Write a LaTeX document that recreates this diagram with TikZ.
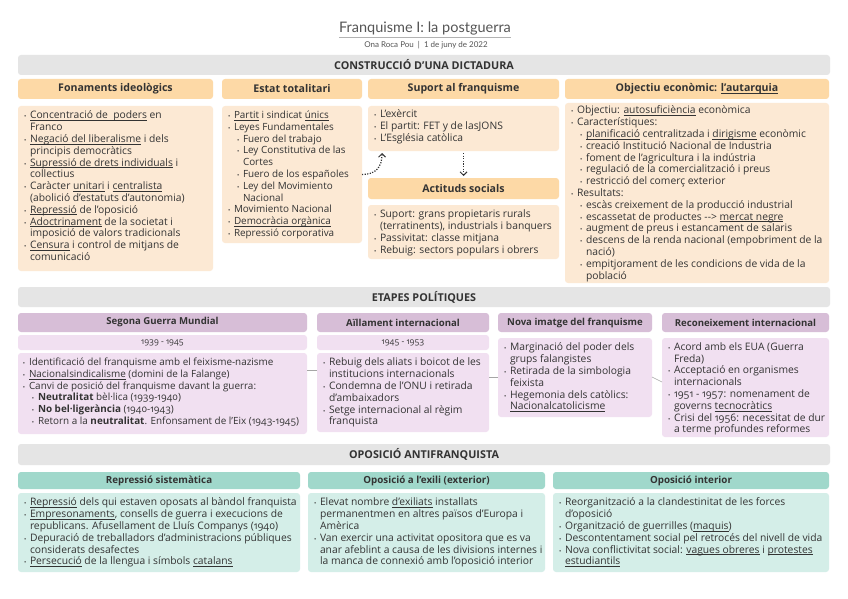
\documentclass[tikz,border=0pt]{standalone}
\usepackage{fontspec}
\setmainfont{Open Sans}[Numbers=OldStyle]
\newfontfamily\titlefont{Lato}
\newcommand\uln[1]{\setbox0\hbox{#1}\rlap{\rule[-1.7pt]{\wd0}{0.5pt}}\box0\relax}
\usetikzlibrary{arrows.meta,calc}
\definecolor{bandgray}{HTML}{E5E5E5}
\definecolor{orH}{HTML}{FDD9A6}
\definecolor{orB}{HTML}{FCE9D4}
\definecolor{puH}{HTML}{D7BED7}
\definecolor{puB}{HTML}{F1E0F1}
\definecolor{teH}{HTML}{A0D8CB}
\definecolor{teB}{HTML}{D4EEE8}
\definecolor{txtc}{HTML}{333333}
\definecolor{titlec}{HTML}{555555}
\newcommand\bul{{\fontsize{6}{6}\selectfont •}}
\newcommand\bA{\makebox[6pt][l]{\bul}}
\newcommand\bB{\hspace*{9pt}\makebox[6pt][l]{\bul}}
\newcommand\cA{\hspace*{6pt}}
\newcommand\cB{\hspace*{15pt}}
\begin{document}
\begin{tikzpicture}[x=1pt,y=-1pt,
  every node/.style={inner sep=0pt, outer sep=0pt, text=txtc},
  panel/.style={anchor=north west, rounded corners=3pt},
  band/.style={panel, fill=bandgray, font=\bfseries\fontsize{10.8}{12}\selectfont},
  oh/.style={panel, fill=orH, font=\bfseries\fontsize{10.6}{12}\selectfont},
  ob/.style={panel, fill=orB},
  ph/.style={panel, fill=puH, font=\bfseries\fontsize{9.6}{12}\selectfont},
  pd/.style={panel, fill=puB, font=\fontsize{8.5}{10}\selectfont},
  pb/.style={panel, fill=puB},
  th/.style={panel, fill=teH, font=\bfseries\fontsize{9.8}{12}\selectfont},
  tb/.style={panel, fill=teB},
  txt/.style={anchor=north west, align=left, font=\fontsize{10.3}{11.8}\selectfont},
  txts/.style={txt, font=\fontsize{9.9}{11.8}\selectfont},
  link/.style={draw=gray!70, line width=0.6pt},
  dotarr/.style={draw=txtc, line width=1.2pt, dash pattern=on 1.2pt off 1.4pt, -{Straight Barb[length=3.5pt,width=7pt,line width=1pt]}}
]
\useasboundingbox[fill=white] (0,0) rectangle (848,599);

% title
\node[anchor=base, text=titlec, font=\titlefont\fontsize{14.5}{16}\selectfont] (title) at (425,33) {Franquisme I: la postguerra};
\draw[gray!60, line width=0.8pt] ($(title.base west)+(0,4.5)$) -- ($(title.base east)+(0,4.5)$);
\node[anchor=base, text=titlec, font=\titlefont\fontsize{8}{9}\selectfont] (sub) at (426,48) {Ona Roca Pou \ | \ 1 de juny de 2022};

% ===== CONSTRUCCIO
\node[band, minimum width=812pt, minimum height=20pt] (b1) at (18,55) {CONSTRUCCIÓ D'UNA DICTADURA};

\node[oh, minimum width=195pt, minimum height=20pt] (fonH) at (18,79) {Fonaments ideològics};
\node[oh, minimum width=140pt, minimum height=20pt] (estH) at (222,79) {Estat totalitari};
\node[oh, minimum width=191pt, minimum height=20pt] (supH) at (368,79) {Suport al franquisme};
\node[oh, minimum width=264pt, minimum height=20pt] (objH) at (565,79) {Objectiu econòmic: \uln{l'autarquia}};

\node[ob, minimum width=195pt, minimum height=165pt] (fonB) at (18,106) {};
\node[ob, minimum width=140pt, minimum height=137pt] (estB) at (222,106) {};
\node[ob, minimum width=191pt, minimum height=45pt] (supB) at (368,106) {};
\node[oh, minimum width=191pt, minimum height=21pt] (actH) at (368,178) {Actituds socials};
\node[ob, minimum width=191pt, minimum height=54pt] (actB) at (368,205) {};
\node[ob, minimum width=264pt, minimum height=180pt] (objB) at (565,103) {};

\node[txt] (fonT) at ($(fonB.north west)+(6,5)$) {%
\bA \uln{Concentració de\ \ poders} en\\
\cA Franco\\
\bA \uln{Negació del liberalisme} i dels\\
\cA principis democràtics\\
\bA \uln{Supressió de drets individuals} i\\
\cA collectius\\
\bA Caràcter \uln{unitari} i \uln{centralista}\\
\cA (abolició d'estatuts d'autonomia)\\
\bA \uln{Repressió} de l'oposició\\
\bA \uln{Adoctrinament} de la societat i\\
\cA imposició de valors tradicionals\\
\bA \uln{Censura} i control de mitjans de\\
\cA comunicació};

\node[txts] (estT) at ($(estB.north west)+(6,5)$) {%
\bA \uln{Partit} i sindicat \uln{únics}\\
\bA Leyes Fundamentales\\
\bB Fuero del trabajo\\
\bB Ley Constitutiva de las\\
\cB Cortes\\
\bB Fuero de los españoles\\
\bB Ley del Movimiento\\
\cB Nacional\\
\bA Movimiento Nacional\\
\bA \uln{Democràcia orgànica}\\
\bA Repressió corporativa};

\node[txt] (supT) at ($(supB.north west)+(6,4)$) {%
\bA L'exèrcit\\
\bA El partit: FET y de lasJONS\\
\bA L'Església catòlica};

\node[txt] (actT) at ($(actB.north west)+(6,5)$) {%
\bA Suport: grans propietaris rurals\\
\cA (terratinents), industrials i banquers\\
\bA Passivitat: classe mitjana\\
\bA Rebuig: sectors populars i obrers};

\node[txt] (objT) at ($(objB.north west)+(6,3)$) {%
\bA Objectiu: \uln{autosuficiència} econòmica\\
\bA Característiques:\\
\bB \uln{planificació} centralitzada i \uln{dirigisme} econòmic\\
\bB creació Institució Nacional de Industria\\
\bB foment de l'agricultura i la indústria\\
\bB regulació de la comercialització i preus\\
\bB restricció del comerç exterior\\
\bA Resultats:\\
\bB escàs creixement de la producció industrial\\
\bB escassetat de productes -{}-{}> \uln{mercat negre}\\
\bB augment de preus i estancament de salaris\\
\bB descens de la renda nacional (empobriment de la\\
\cB nació)\\
\bB empitjorament de les condicions de vida de la\\
\cB població};

\draw[dotarr] (estB.east) .. controls +(14,0) and +(0,14) .. ($(supB.south west)+(14,2)$);
\draw[dotarr] ($(supB.south)+(0,2)$) -- ($(actH.north)+(0,-2)$);

% ===== ETAPES
\node[band, minimum width=812pt, minimum height=20pt] (b2) at (18,287) {ETAPES POLÍTIQUES};

\node[ph, minimum width=289pt, minimum height=19pt] (segH) at (18,313) {Segona Guerra Mundial};
\node[ph, minimum width=172pt, minimum height=19pt] (ailH) at (317,313) {Aïllament internacional};
\node[ph, minimum width=154pt, minimum height=19pt] (novH) at (498,313) {Nova imatge del franquisme};
\node[ph, minimum width=167pt, minimum height=19pt] (recH) at (662,313) {Reconeixement internacional};

\node[pd, minimum width=289pt, minimum height=15pt] (segD) at (18,335) {1939 - 1945};
\node[pd, minimum width=172pt, minimum height=15pt] (ailD) at (317,335) {1945 - 1953};

\node[pb, minimum width=289pt, minimum height=81pt] (segB) at (18,353) {};
\node[pb, minimum width=172pt, minimum height=79pt] (ailB) at (317,353) {};
\node[pb, minimum width=154pt, minimum height=79pt] (novB) at (498,338) {};
\node[pb, minimum width=167pt, minimum height=99pt] (recB) at (662,338) {};

\draw[link] ($(segB.north east)+(0,17)$) -- ($(ailB.north west)+(0,17)$);
\draw[link] ($(ailB.north east)+(0,24)$) -- ($(novB.north west)+(0,39)$);
\draw[link] ($(novB.north east)+(0,39)$) -- ($(recB.north west)+(0,44)$);

\node[txts] (segT) at ($(segB.north west)+(5,5)$) {%
\bA Identificació del franquisme amb el feixisme-nazisme\\
\bA \uln{Nacionalsindicalisme} (domini de la Falange)\\
\bA Canvi de posició del franquisme davant la guerra:\\
\bB \textbf{Neutralitat} bèl·lica (1939-1940)\\
\bB \textbf{No bel·ligerància} (1940-1943)\\
\bB Retorn a la \textbf{neutralitat}. Enfonsament de l'Eix (1943-1945)};

\node[txt] (ailT) at ($(ailB.north west)+(6,5)$) {%
\bA Rebuig dels aliats i boicot de les\\
\cA institucions internacionals\\
\bA Condemna de l'ONU i retirada\\
\cA d'ambaixadors\\
\bA Setge internacional al règim\\
\cA franquista};

\node[txt] (novT) at ($(novB.north west)+(6,5)$) {%
\bA Marginació del poder dels\\
\cA grups falangistes\\
\bA Retirada de la simbologia\\
\cA feixista\\
\bA Hegemonia dels catòlics:\\
\cA \uln{Nacionalcatolicisme}};

\node[txt] (recT) at ($(recB.north west)+(6,4.5)$) {%
\bA Acord amb els EUA (Guerra\\
\cA Freda)\\
\bA Acceptació en organismes\\
\cA internacionals\\
\bA 1951 - 1957: nomenament de\\
\cA governs \uln{tecnocràtics}\\
\bA Crisi del 1956: necessitat de dur\\
\cA a terme profundes reformes};

% ===== OPOSICIO
\node[band, minimum width=812pt, minimum height=21pt] (b3) at (18,444) {OPOSICIÓ ANTIFRANQUISTA};

\node[th, minimum width=282pt, minimum height=17pt] (repH) at (18,472) {Repressió sistemàtica};
\node[th, minimum width=237pt, minimum height=17pt] (exiH) at (308,472) {Oposició a l'exili (exterior)};
\node[th, minimum width=276pt, minimum height=17pt] (intH) at (553,472) {Oposició interior};

\node[tb, minimum width=282pt, minimum height=79pt] (repB) at (18,493) {};
\node[tb, minimum width=237pt, minimum height=79pt] (exiB) at (308,493) {};
\node[tb, minimum width=276pt, minimum height=79pt] (intB) at (553,493) {};

\node[txt] (repT) at ($(repB.north west)+(6,5)$) {%
\bA \uln{Repressió} dels qui estaven oposats al bàndol franquista\\
\bA \uln{Empresonaments}, consells de guerra i execucions de\\
\cA republicans. Afusellament de Lluís Companys (1940)\\
\bA Depuració de treballadors d'administracions públiques\\
\cA considerats desafectes\\
\bA \uln{Persecució} de la llengua i símbols \uln{catalans}};

\node[txt] (exiT) at ($(exiB.north west)+(6,5)$) {%
\bA Elevat nombre \uln{d'exiliats} installats\\
\cA permanentmen en altres països d'Europa i\\
\cA Amèrica\\
\bA Van exercir una activitat opositora que es va\\
\cA anar afeblint a causa de les divisions internes i\\
\cA la manca de connexió amb l'oposició interior};

\node[txt] (intT) at ($(intB.north west)+(6,5)$) {%
\bA Reorganització a la clandestinitat de les forces\\
\cA d'oposició\\
\bA Organització de guerrilles (\uln{maquis})\\
\bA Descontentament social pel retrocés del nivell de vida\\
\bA Nova conflictivitat social: \uln{vagues obreres} i \uln{protestes}\\
\cA \uln{estudiantils}};
\end{tikzpicture}
\end{document}
